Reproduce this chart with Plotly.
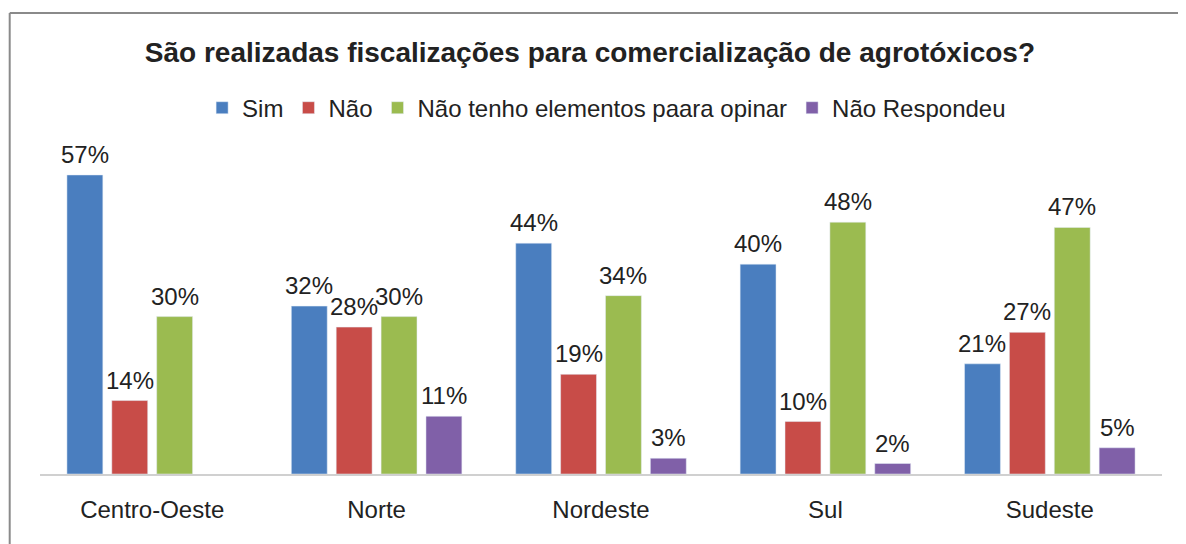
import plotly.graph_objects as go

regioes = ["Centro-Oeste", "Norte", "Nordeste", "Sul", "Sudeste"]
sim = [57, 32, 44, 40, 21]
nao = [14, 28, 19, 10, 27]
sem_elementos = [30, 30, 34, 48, 47]
nao_respondeu = [None, 11, 3, 2, 5]

series = [
    ("Sim", sim, "#4A7EBF"),
    ("Não", nao, "#C84C48"),
    ("Não tenho elementos paara opinar", sem_elementos, "#9BBB50"),
    ("Não Respondeu", nao_respondeu, "#8060A8"),
]

fig = go.Figure()
# deslocamento de cada barra dentro do grupo (bargap 0.2, 4 series)
offsets = [-0.3, -0.1, 0.1, 0.3]
for k, (nome, vals, cor) in enumerate(series):
    fig.add_trace(go.Bar(x=list(range(len(regioes))), y=vals, name=nome, marker_color=cor))
    for i, v in enumerate(vals):
        if v is None:
            continue
        fig.add_annotation(x=i + offsets[k], y=v, text=f"{v}%", showarrow=False,
                           yanchor="bottom", yshift=5, font=dict(size=24, color="#222"))

# moldura cinza do grafico original
fig.add_shape(type="line", xref="paper", yref="paper", x0=-0.027, x1=1.04, y0=1.352, y1=1.352,
              line=dict(color="#8a8a8a", width=2))
fig.add_shape(type="line", xref="paper", yref="paper", x0=-0.027, x1=-0.027, y0=1.352, y1=-0.22,
              line=dict(color="#8a8a8a", width=2))

fig.update_layout(
    width=1178, height=536,
    margin=dict(l=32, r=24, t=125, b=70),
    paper_bgcolor="white", plot_bgcolor="white",
    font=dict(family="Liberation Sans, Arial, sans-serif", color="#222"),
    title=dict(text="<b>São realizadas fiscalizações para comercialização de agrotóxicos?</b>",
               x=0.494, xanchor="center", y=0.918, yanchor="middle", font=dict(size=28, color="#222")),
    barmode="group", bargap=0.2, bargroupgap=0.2,
    legend=dict(orientation="h", x=0.505, xanchor="center", y=1.073, yanchor="middle",
                font=dict(size=24), itemwidth=30, traceorder="normal"),
    showlegend=True,
)
fig.update_xaxes(showline=True, linecolor="#d0d0d0", linewidth=1.5, ticks="",
                 tickmode="array", tickvals=list(range(len(regioes))), ticktext=regioes,
                 range=[-0.5, len(regioes) - 0.5], ticklabelstandoff=13,
                 tickfont=dict(size=24, color="#222"))
fig.update_yaxes(range=[0, 65], visible=False, showgrid=False)

fig.write_html("out.html")
